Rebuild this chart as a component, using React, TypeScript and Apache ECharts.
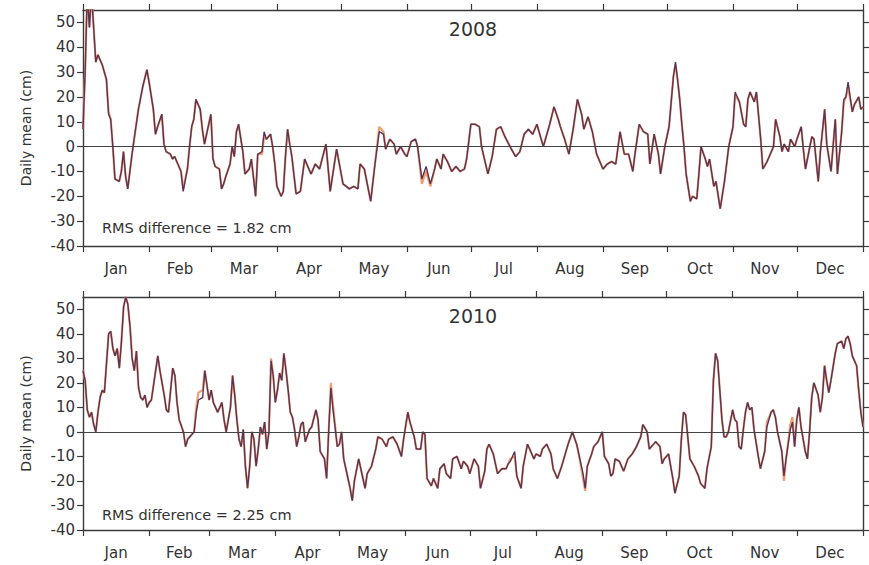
import React, { useEffect, useRef } from "react";
import * as echarts from "echarts";

const monthNames = ["Jan", "Feb", "Mar", "Apr", "May", "Jun", "Jul", "Aug", "Sep", "Oct", "Nov", "Dec"];
const monthStarts2008 = [0, 31, 60, 91, 121, 152, 182, 213, 244, 274, 305, 335, 366];
const monthStarts2010 = [0, 31, 59, 90, 120, 151, 181, 212, 243, 273, 304, 334, 365];
const yTicks = [-40, -30, -20, -10, 0, 10, 20, 30, 40, 50];

// 2008 (day of year, daily mean in cm)
const days2008 = [
  0, 1, 2, 3, 4, 6, 7, 9, 11, 12,
  13, 14, 15, 17, 18, 19, 20, 21, 23, 24,
  26, 28, 30, 31, 33, 34, 35, 37, 38, 39,
  41, 42, 43, 45, 46, 47, 49, 50, 51, 52,
  53, 55, 56, 57, 58, 60, 61, 62, 64, 65,
  66, 67, 69, 70, 71, 72, 73, 75, 76, 78,
  79, 81, 82, 84, 85, 86, 88, 89, 90, 91,
  93, 94, 95, 96, 97, 98, 100, 102, 104, 107,
  109, 111, 114, 116, 119, 122, 125, 127, 129, 130,
  132, 135, 137, 139, 141, 142, 144, 146, 147, 149,
  151, 152, 154, 156, 157, 159, 161, 163, 165, 166,
  168, 169, 171, 173, 175, 177, 179, 180, 182, 184,
  186, 187, 190, 192, 194, 196, 198, 201, 203, 205,
  207, 209, 211, 213, 215, 216, 219, 221, 223, 224,
  226, 228, 230, 232, 234, 235, 237, 239, 241, 242,
  244, 246, 248, 250, 252, 254, 256, 258, 259, 261,
  263, 265, 266, 268, 270, 271, 273, 275, 277, 278,
  279, 280, 281, 282, 283, 285, 286, 288, 289, 290,
  292, 293, 294, 296, 297, 299, 301, 303, 305, 306,
  308, 310, 311, 312, 313, 315, 316, 318, 319, 321,
  322, 324, 325, 327, 328, 329, 331, 332, 334, 335,
  337, 338, 339, 342, 343, 345, 346, 348, 349, 351,
  353, 354, 356, 357, 358, 359, 361, 362, 364, 365, 366,
];
const model2008 = [
  7, 30, 62, 48, 62, 34, 37, 33, 27, 13,
  11, 0, -13, -14, -10, -2, -12, -17, -3, 3,
  15, 24, 31, 26, 15, 5, 8, 13, 1, -2,
  -3, -5, -4, -8, -10, -18, -9, 0, 8, 11,
  19, 15, 7, 1, 5, 13, -5, -8, -9, -17,
  -15, -12, -7, 0, -4, 6, 9, -2, -11, -9,
  -5, -20, -3, -2, 6, 3, 5, 0, -7, -16,
  -20, -18, -4, 7, 1, -4, -19, -18, -5, -11,
  -7, -9, 1, -18, -1, -15, -17, -16, -17, -7,
  -9, -22, -7, 6, 5, -1, 3, 1, -3, 0,
  -3, -4, 2, 3, 0, -13, -8, -15, -9, -5,
  -9, -3, -6, -10, -8, -10, -9, -5, 9, 9,
  8, 0, -11, -4, 7, 8, 4, -1, -4, -2,
  5, 7, 5, 9, 3, 0, 9, 16, 11, 8,
  3, -3, 7, 19, 13, 7, 12, 6, -3, -5,
  -9, -7, -6, -7, 6, -3, -3, -10, -3, 9,
  6, 5, -7, 5, -3, -11, 0, 8, 28, 34,
  27, 19, 9, 0, -11, -22, -20, -21, -11, 0,
  -5, -8, -5, -16, -14, -25, -14, 0, 8, 22,
  18, 9, 8, 19, 22, 18, 22, 3, -9, -6,
  -4, 0, 11, 4, -2, 1, -2, 3, 0, 3,
  8, -1, -9, 4, 3, -14, -2, 15, 1, -10,
  11, -11, 6, 19, 20, 26, 14, 17, 20, 15, 16,
];
const obs2008 = [
  7, 30, 62, 48, 62, 34, 37, 33, 27, 14,
  11, 0, -13, -14, -10, -2, -12, -17, -3, 3,
  15, 24, 31, 26, 15, 5, 8, 13, 1, -2,
  -3, -5, -4, -8, -10, -17, -9, 0, 8, 11,
  19, 15, 7, 1, 5, 13, -5, -8, -9, -17,
  -15, -12, -7, 0, -4, 6, 9, -2, -11, -9,
  -5, -20, -3, -3, 4, 3, 5, 0, -7, -16,
  -20, -18, -4, 7, 1, -4, -19, -18, -5, -11,
  -7, -9, 1, -18, -1, -15, -17, -16, -17, -7,
  -9, -22, -7, 8, 6, -1, 3, 1, -3, 0,
  -3, -4, 2, 3, 0, -15, -10, -16, -9, -5,
  -9, -3, -6, -10, -8, -10, -9, -5, 9, 9,
  8, 0, -11, -4, 7, 8, 4, -1, -4, -2,
  5, 7, 5, 9, 3, 0, 9, 16, 11, 8,
  3, -3, 7, 19, 13, 7, 12, 6, -3, -5,
  -9, -7, -6, -7, 6, -3, -3, -10, -3, 9,
  6, 5, -7, 5, -3, -11, 0, 8, 28, 33,
  27, 19, 9, 0, -11, -22, -20, -21, -11, 0,
  -5, -8, -5, -16, -14, -25, -14, 0, 8, 21,
  18, 9, 8, 19, 22, 18, 22, 3, -9, -6,
  -4, 0, 11, 4, -2, 1, -2, 3, 0, 3,
  8, -1, -9, 4, 3, -14, -2, 15, 1, -10,
  11, -11, 6, 18, 20, 24, 14, 17, 20, 15, 16,
];

// 2010
const days2010 = [
  0, 1, 2, 3, 4, 5, 6, 7, 8, 9,
  10, 11, 12, 13, 14, 15, 16, 17, 18, 19,
  20, 21, 22, 23, 24, 25, 26, 27, 28, 29,
  30, 31, 32, 33, 34, 35, 36, 38, 39, 40,
  41, 42, 43, 44, 45, 47, 48, 49, 50, 52,
  53, 54, 56, 57, 59, 60, 61, 62, 63, 65,
  66, 67, 69, 70, 71, 72, 73, 74, 75, 76,
  77, 78, 79, 80, 81, 82, 83, 84, 85, 86,
  87, 88, 89, 90, 91, 92, 93, 94, 95, 96,
  97, 98, 99, 100, 101, 102, 103, 104, 106, 107,
  109, 110, 111, 113, 114, 115, 116, 117, 119, 120,
  121, 122, 124, 125, 126, 127, 129, 131, 132, 133,
  135, 137, 138, 140, 142, 143, 145, 147, 149, 150,
  152, 153, 155, 156, 158, 159, 160, 161, 163, 164,
  166, 167, 169, 170, 172, 173, 175, 177, 178, 180,
  181, 183, 185, 186, 188, 189, 190, 192, 193, 194,
  196, 198, 199, 200, 202, 203, 205, 206, 208, 209,
  211, 212, 214, 215, 217, 219, 220, 222, 224, 225,
  227, 229, 231, 232, 234, 235, 236, 238, 239, 241,
  242, 243, 244, 246, 247, 248, 249, 251, 253, 255,
  257, 259, 261, 262, 264, 265, 267, 268, 270, 271,
  272, 274, 275, 276, 277, 279, 280, 281, 282, 283,
  284, 286, 288, 289, 291, 292, 294, 295, 296, 297,
  298, 299, 300, 301, 302, 304, 305, 306, 307, 308,
  309, 310, 311, 312, 313, 314, 316, 317, 319, 320,
  322, 323, 324, 325, 327, 328, 329, 331, 332, 333,
  334, 335, 336, 338, 339, 340, 341, 342, 344, 345,
  346, 347, 348, 349, 350, 352, 353, 355, 356, 357,
  358, 359, 360, 361, 362, 363, 364, 365,
];
const model2010 = [
  25, 21, 9, 6, 8, 3, 0, 8, 14, 17,
  16, 28, 40, 41, 34, 31, 34, 26, 37, 51,
  55, 52, 43, 30, 25, 33, 18, 14, 13, 15,
  10, 12, 13, 19, 25, 31, 25, 15, 9, 8,
  17, 26, 23, 12, 5, 0, -6, -3, -2, 0,
  8, 13, 14, 25, 13, 17, 12, 10, 8, 12,
  5, 0, 10, 23, 15, 5, -3, -6, 1, -14,
  -23, -14, 0, -3, -14, -7, 2, -1, 4, -7,
  0, 29, 23, 12, 17, 24, 21, 32, 25, 17,
  8, 6, 1, -6, -2, 3, 4, -4, 1, 2,
  9, 5, -8, -11, -19, 1, 18, 9, -6, -5,
  0, -11, -19, -23, -28, -20, -11, -19, -23, -17,
  -14, -7, -2, -3, -6, -3, -2, -5, -10, -3,
  8, 4, -2, -7, -7, 0, -1, -19, -22, -19,
  -23, -15, -13, -17, -19, -11, -10, -15, -12, -14,
  -17, -11, -14, -23, -16, -7, -5, -9, -13, -17,
  -15, -15, -13, -12, -8, -18, -23, -14, -5, -7,
  -11, -9, -10, -7, -5, -9, -15, -19, -14, -11,
  -5, 0, -5, -9, -17, -23, -14, -9, -6, -4,
  -2, 0, -10, -13, -18, -17, -11, -12, -16, -11,
  -9, -6, -2, 3, 0, -7, -5, -4, -6, -13,
  -11, -9, -14, -19, -25, -18, -3, 8, 7, -2,
  -11, -14, -18, -21, -23, -15, -6, 21, 32, 29,
  17, 5, -2, -2, 0, 9, 5, 4, -6, -7,
  1, 8, 12, 9, 10, 1, -10, -15, -8, 2,
  8, 9, 6, 0, -8, -18, -11, 1, 4, -6,
  5, 10, 2, -8, -11, 0, 14, 20, 15, 8,
  14, 27, 21, 16, 21, 32, 36, 37, 34, 38,
  39, 36, 31, 29, 27, 17, 8, 2,
];
const obs2010 = [
  25, 21, 9, 6, 8, 3, 0, 8, 14, 17,
  16, 28, 40, 41, 34, 31, 34, 26, 37, 51,
  55, 52, 43, 30, 25, 33, 18, 14, 13, 15,
  10, 12, 13, 19, 25, 31, 25, 15, 9, 8,
  17, 26, 23, 12, 5, 0, -6, -3, -2, 0,
  10, 16, 17, 25, 13, 17, 12, 10, 8, 12,
  5, 0, 10, 23, 15, 5, -3, -6, 1, -14,
  -23, -14, 0, -3, -14, -7, 2, -1, 4, -7,
  0, 30, 23, 12, 17, 24, 21, 32, 25, 17,
  8, 6, 1, -6, -2, 3, 4, -4, 1, 2,
  9, 5, -8, -11, -19, 1, 20, 11, -6, -5,
  0, -11, -19, -23, -28, -20, -11, -19, -23, -17,
  -14, -7, -2, -3, -6, -3, -2, -5, -10, -3,
  8, 4, -2, -7, -7, 0, -1, -19, -22, -19,
  -23, -15, -13, -17, -19, -11, -10, -15, -12, -14,
  -17, -11, -14, -23, -16, -7, -5, -9, -13, -17,
  -15, -15, -13, -11, -10, -18, -23, -14, -5, -7,
  -11, -9, -10, -7, -5, -9, -15, -19, -14, -11,
  -5, 0, -5, -9, -19, -24, -14, -9, -6, -4,
  -2, 0, -10, -13, -18, -17, -11, -12, -16, -11,
  -9, -6, -2, 3, 0, -7, -5, -4, -6, -13,
  -11, -9, -14, -19, -25, -18, -3, 8, 7, -2,
  -11, -14, -18, -21, -23, -15, -6, 21, 32, 29,
  17, 5, -2, -2, 0, 9, 5, 4, -6, -7,
  1, 8, 12, 9, 10, 1, -10, -15, -8, 4,
  8, 9, 6, 0, -8, -20, -11, 3, 6, -6,
  5, 10, 2, -8, -11, 0, 14, 20, 15, 8,
  14, 27, 21, 16, 21, 32, 36, 37, 34, 38,
  39, 36, 31, 29, 27, 17, 8, 2,
];

const panelYears = ["2008", "2010"];
const rmsTexts = ["RMS difference = 1.82 cm", "RMS difference = 2.25 cm"];

const FONT = '"DejaVu Sans", sans-serif';
const AXIS_COLOR = "#3a3a3a";
const TEXT_COLOR = "#333";

function pairs(days: number[], vals: number[]) {
  return days.map((d, i) => [d, vals[i]]);
}

export default function App() {
  const ref = useRef<HTMLDivElement>(null);

  useEffect(() => {
    if (!ref.current) return;
    const chart = echarts.init(ref.current, undefined, { renderer: "svg" });

    const grids = [
      { left: 83, top: 10, width: 780, height: 236 },
      { left: 83, top: 297, width: 780, height: 233 },
    ];
    const starts = [monthStarts2008, monthStarts2010];

    const xAxes: any[] = [];
    const yAxes: any[] = [];
    const series: any[] = [];

    const lineStyleAxis = { show: true, onZero: false, lineStyle: { color: AXIS_COLOR, width: 1.4 } };
    const tickStyle = { color: AXIS_COLOR, width: 1.2 };

    starts.forEach((ms, gi) => {
      const mids = ms.slice(0, 12).map((s, i) => (s + ms[i + 1]) / 2);
      const maxDay = ms[12];
      xAxes.push({
        type: "value",
        gridIndex: gi,
        position: "bottom",
        min: 0,
        max: maxDay,
        axisLine: lineStyleAxis,
        splitLine: { show: false },
        axisTick: { show: true, customValues: ms, length: 6, inside: false, lineStyle: tickStyle },
        axisLabel: {
          customValues: mids,
          margin: 15,
          fontSize: 15,
          fontFamily: FONT,
          color: TEXT_COLOR,
          formatter: (v: number) => {
            const i = mids.findIndex((m) => Math.abs(m - v) < 0.01);
            return i >= 0 ? monthNames[i] : "";
          },
        },
      });
      xAxes.push({
        type: "value",
        gridIndex: gi,
        position: "top",
        min: 0,
        max: maxDay,
        axisLine: lineStyleAxis,
        splitLine: { show: false },
        axisTick: { show: true, customValues: ms, length: 6, inside: false, lineStyle: tickStyle },
        axisLabel: { show: false },
      });
      yAxes.push({
        type: "value",
        gridIndex: gi,
        position: "left",
        min: -40,
        max: 55,
        axisLine: lineStyleAxis,
        splitLine: { show: false },
        axisTick: { show: true, customValues: yTicks, length: 6, lineStyle: tickStyle },
        axisLabel: { customValues: yTicks, margin: 8, fontSize: 15, fontFamily: FONT, color: TEXT_COLOR },
        name: "Daily mean (cm)",
        nameLocation: "middle",
        nameGap: 50,
        nameTextStyle: { fontSize: 14, fontFamily: FONT, color: TEXT_COLOR },
      });
      yAxes.push({
        type: "value",
        gridIndex: gi,
        position: "right",
        min: -40,
        max: 55,
        axisLine: lineStyleAxis,
        splitLine: { show: false },
        axisTick: { show: true, customValues: yTicks, length: 6, lineStyle: tickStyle },
        axisLabel: { show: false },
      });
    });

    const obsData = [pairs(days2008, obs2008), pairs(days2010, obs2010)];
    const modelData = [pairs(days2008, model2008), pairs(days2010, model2010)];

    [0, 1].forEach((gi) => {
      series.push({
        type: "line",
        xAxisIndex: gi * 2,
        yAxisIndex: gi * 2,
        data: obsData[gi],
        symbol: "none",
        showSymbol: false,
        clip: true,
        z: 2,
        lineStyle: { color: "#f0a072", width: 2.2 },
        markLine: {
          silent: true,
          symbol: ["none", "none"],
          label: { show: false },
          lineStyle: { color: "#444", width: 1, type: "solid" },
          data: [{ yAxis: 0 }],
        },
      });
      series.push({
        type: "line",
        xAxisIndex: gi * 2,
        yAxisIndex: gi * 2,
        data: modelData[gi],
        symbol: "none",
        showSymbol: false,
        clip: true,
        z: 3,
        lineStyle: { color: "#5a3356", width: 1.4 },
      });
    });

    const graphic: any[] = [];
    const yearY = [29, 316];
    const rmsY = [228, 515];
    [0, 1].forEach((gi) => {
      graphic.push({
        type: "text",
        x: 473,
        y: yearY[gi],
        style: {
          text: panelYears[gi],
          fontSize: 19,
          fontFamily: FONT,
          fill: TEXT_COLOR,
          align: "center",
          verticalAlign: "middle",
        },
      });
      graphic.push({
        type: "text",
        x: 102,
        y: rmsY[gi],
        style: {
          text: rmsTexts[gi],
          fontSize: 14.5,
          fontFamily: FONT,
          fill: TEXT_COLOR,
          align: "left",
          verticalAlign: "middle",
        },
      });
    });

    chart.setOption({
      animation: false,
      backgroundColor: "#ffffff",
      grid: grids,
      xAxis: xAxes,
      yAxis: yAxes,
      series,
      graphic,
    });

    return () => chart.dispose();
  }, []);

  return (
    <div
      ref={ref}
      style={{ position: "absolute", left: 0, top: 0, width: 869, height: 565 }}
    />
  );
}
